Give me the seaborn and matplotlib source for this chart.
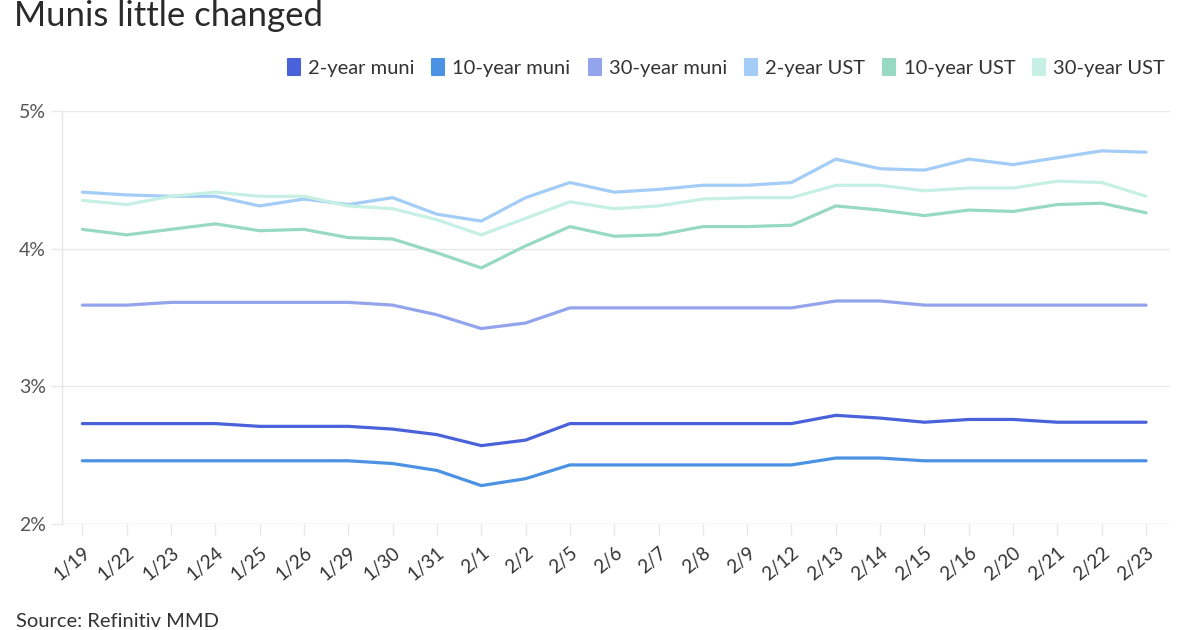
import matplotlib
matplotlib.use("Agg")
import matplotlib.pyplot as plt
import seaborn as sns
import pandas as pd
from matplotlib.lines import Line2D
from matplotlib.markers import MarkerStyle
from matplotlib.path import Path

dates = ["1/19", "1/22", "1/23", "1/24", "1/25", "1/26", "1/29", "1/30", "1/31",
         "2/1", "2/2", "2/5", "2/6", "2/7", "2/8", "2/9", "2/12", "2/13", "2/14",
         "2/15", "2/16", "2/20", "2/21", "2/22", "2/23"]

muni_2y = [2.73, 2.73, 2.73, 2.73, 2.71, 2.71, 2.71, 2.69, 2.65, 2.57, 2.61, 2.73, 2.73,
           2.73, 2.73, 2.73, 2.73, 2.79, 2.77, 2.74, 2.76, 2.76, 2.74, 2.74, 2.74]
muni_10y = [2.46, 2.46, 2.46, 2.46, 2.46, 2.46, 2.46, 2.44, 2.39, 2.28, 2.33, 2.43, 2.43,
            2.43, 2.43, 2.43, 2.43, 2.48, 2.48, 2.46, 2.46, 2.46, 2.46, 2.46, 2.46]
muni_30y = [3.59, 3.59, 3.61, 3.61, 3.61, 3.61, 3.61, 3.59, 3.52, 3.42, 3.46, 3.57, 3.57,
            3.57, 3.57, 3.57, 3.57, 3.62, 3.62, 3.59, 3.59, 3.59, 3.59, 3.59, 3.59]
ust_2y = [4.41, 4.39, 4.38, 4.38, 4.31, 4.36, 4.32, 4.37, 4.25, 4.20, 4.37, 4.48, 4.41,
          4.43, 4.46, 4.46, 4.48, 4.65, 4.58, 4.57, 4.65, 4.61, 4.66, 4.71, 4.70]
ust_10y = [4.14, 4.10, 4.14, 4.18, 4.13, 4.14, 4.08, 4.07, 3.97, 3.86, 4.02, 4.16, 4.09,
           4.10, 4.16, 4.16, 4.17, 4.31, 4.28, 4.24, 4.28, 4.27, 4.32, 4.33, 4.26]
ust_30y = [4.35, 4.32, 4.38, 4.41, 4.38, 4.38, 4.31, 4.29, 4.21, 4.10, 4.22, 4.34, 4.29,
           4.31, 4.36, 4.37, 4.37, 4.46, 4.46, 4.42, 4.44, 4.44, 4.49, 4.48, 4.38]

series_names = ["2-year muni", "10-year muni", "30-year muni",
                "2-year UST", "10-year UST", "30-year UST"]
series_values = [muni_2y, muni_10y, muni_30y, ust_2y, ust_10y, ust_30y]
colors = ["#4a62d9", "#4b92e3", "#94a4ec", "#a3cdf6", "#97d9c2", "#c6f0e4"]
y_ticks = [2, 3, 4, 5]
y_tick_labels = ["2%", "3%", "4%", "5%"]

rows = []
for name, vals in zip(series_names, series_values):
    for i, (d, v) in enumerate(zip(dates, vals)):
        rows.append({"idx": i, "date": d, "series": name, "value": v})
df = pd.DataFrame(rows)

sns.set_theme(style="white")
plt.rcParams["font.family"] = ["Lato", "DejaVu Sans"]

fig = plt.figure(figsize=(12, 6.3), dpi=100)
ax = fig.add_axes([0.052, 0.168, 0.923, 0.656])

palette = dict(zip(series_names, colors))
sns.lineplot(data=df, x="idx", y="value", hue="series", hue_order=series_names,
             palette=palette, linewidth=2.3, ax=ax, legend=False, sort=False)
for ln in ax.lines:
    ln.set_solid_joinstyle("round")
    ln.set_solid_capstyle("round")

ax.set_xlim(-0.45, 24.54)
ax.set_ylim(2, 5)
ax.set_yticks(y_ticks)
ax.set_yticklabels(y_tick_labels)
ax.set_xticks(range(len(dates)))
ax.set_xticklabels(dates, rotation=40, ha="right", rotation_mode="anchor")
ax.set_xlabel("")
ax.set_ylabel("")
ax.yaxis.grid(True, color="#e8e8e8", linewidth=1)
ax.set_axisbelow(True)
for s in ["top", "right", "bottom"]:
    ax.spines[s].set_visible(False)
ax.spines["left"].set_color("#e8e8e8")
ax.spines["left"].set_linewidth(1)
ax.tick_params(axis="x", length=8, width=1, color="#e8e8e8", labelsize=13.5,
               labelcolor="#333333", pad=6, bottom=True)
ax.tick_params(axis="y", length=8, width=1, color="#e8e8e8", labelsize=14,
               labelcolor="#555555", pad=4, left=True)
ax.axhline(2, color="#e8e8e8", linewidth=1, zorder=0)

fig.text(0.012, 0.958, "Munis little changed", fontsize=25, color="#2a2a2a",
         ha="left", va="baseline")
fig.text(0.013, 0.0, "Source: Refinitiv MMD", fontsize=14.5, color="#333333",
         ha="left", va="bottom")

rect = Path([(-2, -3), (2, -3), (2, 3), (-2, 3), (-2, -3)],
            [Path.MOVETO, Path.LINETO, Path.LINETO, Path.LINETO, Path.CLOSEPOLY])
mstyle = MarkerStyle(rect, joinstyle="round")
handles = [Line2D([0], [0], marker=mstyle, linestyle="none", markersize=12,
                  markerfacecolor=c, markeredgecolor=c, markeredgewidth=1.5)
           for c in colors]
fig.legend(handles, series_names, loc="center right", bbox_to_anchor=(0.971, 0.892),
           ncol=6, frameon=False, fontsize=14.5, handletextpad=0.35,
           columnspacing=0.85, handlelength=0.7, labelcolor="#333333",
           borderaxespad=0, borderpad=0)

fig.savefig("out.png", dpi=100)
